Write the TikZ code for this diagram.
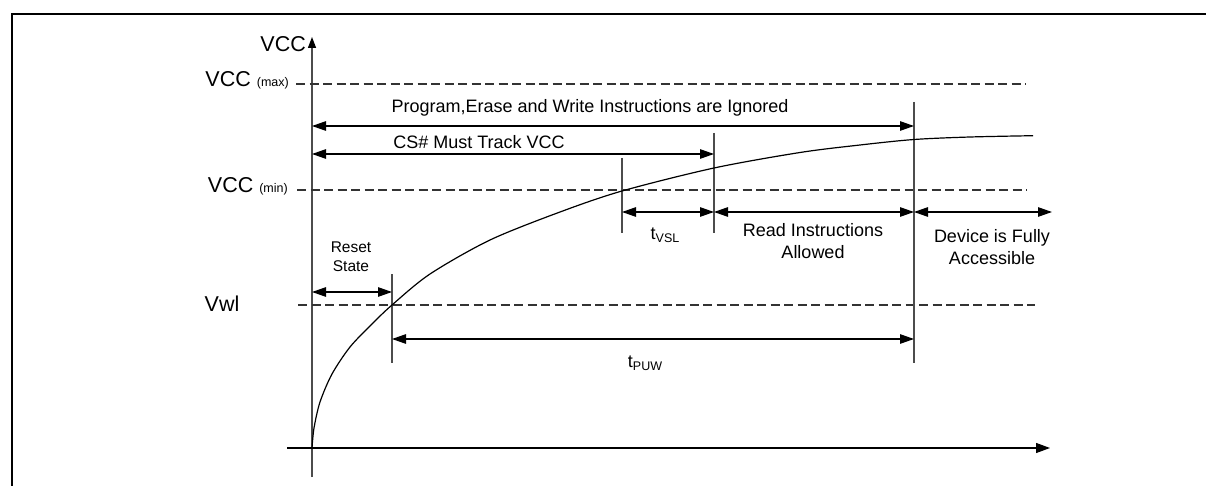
\documentclass[tikz,border=0pt]{standalone}
\usepackage{fontspec}
\setmainfont{Liberation Sans}
\usetikzlibrary{arrows.meta}
\tikzset{
  lbl/.style={font=\fontsize{18}{22}\selectfont, inner sep=0pt, align=center},
  big/.style={font=\fontsize{21.5}{24}\selectfont, inner sep=0pt},
  small/.style={font=\fontsize{15.5}{19}\selectfont, inner sep=0pt, align=center},
  dimarrow/.style={{Triangle[length=14pt,width=9.5pt]}-{Triangle[length=14pt,width=9.5pt]}, line width=1.2pt},
  marker/.style={draw=black!70, line width=1.3pt},
  level/.style={draw=black!80, line width=1.1pt, dash pattern=on 9pt off 4.5pt},
  frame/.style={line width=1.5pt}
}
\begin{document}
\begin{tikzpicture}[x=1pt,y=-1pt]
\useasboundingbox (0,0) rectangle (1206,486);
% frame
\coordinate (fbl) at (12,486);
\coordinate (ftl) at (12,14);
\coordinate (ftr) at (1206,14);
\draw[frame] (fbl) -- (ftl) -- (ftr);
% axes
\coordinate (ybot) at (312,477);
\coordinate (ytop) at (312,37);
\coordinate (xl) at (287,448);
\coordinate (xr) at (1050,448);
\draw[draw=black!70, line width=1.3pt, -{Triangle[length=11pt,width=8pt,color=black]}] (ybot) -- (ytop);
\draw[line width=1.2pt, -{Triangle[length=14pt,width=10pt]}] (xl) -- (xr);
% levels
\coordinate (maxl) at (296,84); \coordinate (maxr) at (1026,84);
\coordinate (minl) at (297,190); \coordinate (minr) at (1027,190);
\coordinate (vwll) at (298,305); \coordinate (vwlr) at (1035,305);
\draw[level] (maxl) -- (maxr);
\draw[level] (minl) -- (minr);
\draw[level] (vwll) -- (vwlr);
% labels on axis
\node[big, anchor=east] (vcc) at (306,44) {VCC};
\node[big, anchor=base east] (vccmax) at (289,87) {VCC {\fontsize{12.5}{14}\selectfont(max)}};
\node[big, anchor=base east] (vccmin) at (288,193) {VCC {\fontsize{12.5}{14}\selectfont(min)}};
\node[big] (vwl) at (222,304) {Vwl};
% vertical markers
\coordinate (m1t) at (392,274); \coordinate (m1b) at (392,363);
\coordinate (m2t) at (622,158); \coordinate (m2b) at (622,233);
\coordinate (m3t) at (714,133); \coordinate (m3b) at (714,233);
\coordinate (m4t) at (914,102); \coordinate (m4b) at (914,363);
\draw[marker] (m1t) -- (m1b);
\draw[marker] (m2t) -- (m2b);
\draw[marker] (m3t) -- (m3b);
\draw[marker] (m4t) -- (m4b);
% curve
\draw[line width=1.2pt] plot[smooth, tension=0.5] coordinates {(312,448) (314,428) (320,402) (332,374) (350,347) (372,324) (392,305) (430,274) (490,240) (560,212) (622,191) (714,168) (800,152.5) (860,145) (914,139.5) (970,137) (1033,135.7)};
% dimension arrows
\coordinate (pa) at (312,126); \coordinate (pb) at (914,126);
\coordinate (ca) at (312,154); \coordinate (cb) at (714,154);
\coordinate (ra) at (312,292); \coordinate (rb) at (392,292);
\coordinate (ta) at (622,212); \coordinate (tb) at (714,212);
\coordinate (da) at (914,212); \coordinate (db) at (1052,212);
\coordinate (ua) at (392,339); \coordinate (ub) at (914,339);
\draw[dimarrow] (pa) -- (pb);
\draw[dimarrow] (ca) -- (cb);
\draw[dimarrow] (ra) -- (rb);
\draw[dimarrow] (ta) -- (tb);
\draw[dimarrow] (tb) -- (da);
\draw[dimarrow] (da) -- (db);
\draw[dimarrow] (ua) -- (ub);
% texts
\node[lbl] (prog) at (590,108) {Program,Erase and Write Instructions are Ignored};
\node[lbl] (cs) at (479,142) {CS\# Must Track VCC};
\node[small] (reset) at (351,257) {Reset\\State};
\node[lbl, anchor=base] (tvsl) at (665,240) {t\raisebox{-3pt}{\fontsize{12.5}{14}\selectfont VSL}};
\node[lbl] (read) at (813,241) {Read Instructions\\Allowed};
\node[lbl] (dev) at (992,247) {Device is Fully\\Accessible};
\node[lbl, anchor=base] (tpuw) at (645,367) {t\raisebox{-3pt}{\fontsize{12.5}{14}\selectfont PUW}};
\end{tikzpicture}
\end{document}
